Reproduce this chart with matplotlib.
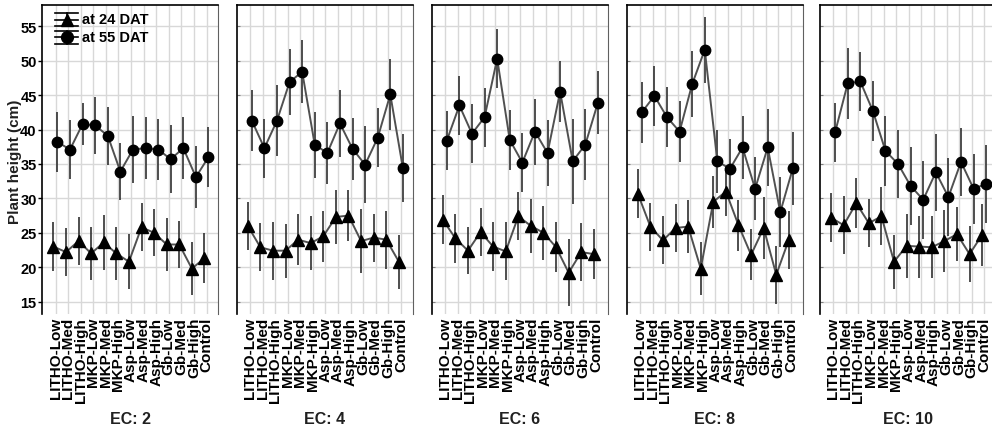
import numpy as np
import matplotlib
matplotlib.use('Agg')
import matplotlib.pyplot as plt

plt.rcParams['font.family'] = ['Liberation Sans', 'DejaVu Sans']
plt.rcParams['font.weight'] = 'bold'

treatments = ['LITHO-Low', 'LITHO-Med', 'LITHO-High', 'MKP-Low', 'MKP-Med', 'MKP-High',
              'Asp-Low', 'Asp-Med', 'Asp-High', 'Gb-Low', 'Gb-Med', 'Gb-High', 'Control']
ec_levels = ['EC: 2', 'EC: 4', 'EC: 6', 'EC: 8', 'EC: 10']
series_labels = ['at 24 DAT', 'at 55 DAT']

# plant height at 24 DAT (triangles), one list per EC level
h24_ec2 = [23.0, 22.2, 23.8, 22.0, 23.6, 22.0, 20.8, 25.8, 25.0, 23.3, 23.3, 19.8, 21.3]
h24_ec4 = [26.0, 22.9, 22.4, 22.4, 24.0, 23.5, 24.5, 27.3, 27.5, 23.8, 24.3, 24.0, 20.8]
h24_ec6 = [26.9, 24.2, 22.4, 25.1, 23.0, 22.3, 27.4, 26.0, 25.0, 22.9, 19.2, 22.2, 21.9]
h24_ec8 = [30.7, 25.9, 23.9, 25.7, 25.9, 19.8, 29.5, 31.0, 26.1, 21.8, 25.7, 18.9, 24.0]
h24_ec10 = [27.2, 26.1, 29.3, 26.4, 27.4, 20.8, 23.1, 23.0, 22.9, 23.8, 24.8, 21.9, 24.7]

err24_ec2 = [3.6, 3.5, 3.5, 3.9, 4.0, 3.9, 4.0, 3.5, 3.4, 3.9, 3.4, 3.8, 3.6]
err24_ec4 = [3.5, 3.5, 4.2, 3.9, 3.7, 3.9, 3.7, 3.9, 3.7, 4.6, 3.5, 4.2, 3.9]
err24_ec6 = [3.6, 3.6, 3.4, 3.5, 3.5, 4.2, 3.5, 3.9, 3.9, 3.6, 4.9, 4.2, 3.6]
err24_ec8 = [3.6, 3.5, 3.5, 3.5, 3.9, 3.9, 3.8, 3.6, 3.7, 3.7, 4.5, 4.2, 4.2]
err24_ec10 = [3.6, 4.2, 3.6, 3.5, 4.2, 3.9, 4.6, 4.5, 4.5, 4.5, 3.9, 4.1, 4.5]

# plant height at 55 DAT (circles)
h55_ec2 = [38.2, 37.1, 40.8, 40.6, 39.1, 33.9, 37.1, 37.3, 37.1, 35.7, 37.3, 33.1, 36.0]
h55_ec4 = [41.3, 37.3, 41.3, 46.9, 48.4, 37.8, 36.6, 40.9, 37.2, 34.9, 38.8, 45.1, 34.4]
h55_ec6 = [38.4, 43.5, 39.4, 41.8, 50.3, 38.5, 35.2, 39.7, 36.6, 45.5, 35.4, 37.8, 43.9]
h55_ec8 = [42.5, 44.9, 41.8, 39.7, 46.6, 51.6, 35.4, 34.3, 37.4, 31.4, 37.4, 28.0, 34.4]
h55_ec10 = [39.6, 46.7, 47.0, 42.7, 36.9, 35.0, 31.8, 29.8, 33.8, 30.2, 35.3, 31.4, 32.1]

err55_ec2 = [4.4, 4.3, 3.1, 4.1, 4.2, 4.2, 4.8, 4.5, 4.4, 4.9, 4.5, 4.5, 4.3]
err55_ec4 = [4.4, 4.3, 5.2, 4.8, 4.6, 4.8, 4.5, 4.9, 4.5, 5.6, 4.3, 5.1, 4.9]
err55_ec6 = [4.3, 4.3, 4.3, 4.3, 4.3, 4.4, 4.3, 4.8, 4.8, 4.4, 6.2, 5.2, 4.6]
err55_ec8 = [4.4, 4.4, 4.4, 4.4, 4.8, 4.8, 4.6, 4.4, 4.6, 4.6, 5.6, 5.1, 5.3]
err55_ec10 = [4.3, 5.1, 4.3, 4.4, 5.1, 4.9, 5.6, 5.7, 5.6, 5.7, 4.9, 5.1, 5.7]

h24 = [h24_ec2, h24_ec4, h24_ec6, h24_ec8, h24_ec10]
err24 = [err24_ec2, err24_ec4, err24_ec6, err24_ec8, err24_ec10]
h55 = [h55_ec2, h55_ec4, h55_ec6, h55_ec8, h55_ec10]
err55 = [err55_ec2, err55_ec4, err55_ec6, err55_ec8, err55_ec10]

W, H = 992, 435
fig = plt.figure(figsize=(W / 100, H / 100), dpi=100)

lefts = [42.3, 236.7, 431.7, 626.7, 820.0]
ax_w, ax_top, ax_bot = 176, 6, 315
ax_h = ax_bot - ax_top
x = np.arange(len(treatments))

for i, left in enumerate(lefts):
    ax = fig.add_axes([left / W, (H - ax_bot) / H, ax_w / W, ax_h / H])
    ax.set_xlim(-1.05, 12.93)
    ax.set_ylim(13.2, 58.1)
    ax.set_axisbelow(True)
    ax.grid(True, color='#d8d8d8', linewidth=1.0)

    ax.errorbar(x - 0.17, h24[i], yerr=err24[i], fmt='-', marker='^', color='#505050',
                mfc='black', mec='black', ms=8, lw=1.4, ecolor='#303030', elinewidth=1.2,
                capsize=0, zorder=3)
    ax.errorbar(x + 0.15, h55[i], yerr=err55[i], fmt='-', marker='o', color='#505050',
                mfc='black', mec='black', ms=7.5, lw=1.4, ecolor='#303030', elinewidth=1.2,
                capsize=0, zorder=3)

    ax.set_xticks(x)
    ax.set_xticklabels(treatments, rotation=90, fontsize=11, fontweight='bold')
    ax.tick_params(axis='x', length=0, pad=2)
    ax.set_yticks([15, 20, 25, 30, 35, 40, 45, 50, 55])
    for s in ['top', 'left']:
        ax.spines[s].set_color('black')
        ax.spines[s].set_linewidth(1.2)
    ax.spines['right'].set_color('#606060')
    ax.spines['bottom'].set_visible(False)

    if i == 0:
        ax.tick_params(axis='y', labelsize=10.5, length=3, width=1, pad=1)
        for lab in ax.get_yticklabels():
            lab.set_fontweight('bold')
        # hand-drawn legend: caps, line, vertical bar and marker in axes coords
        fx = lambda px: (px - left) / ax_w
        fy = lambda py: 1 - (py - ax_top) / ax_h
        for row_y, mk, lab in [(20.5, '^', series_labels[0]), (38.3, 'o', series_labels[1])]:
            for dy in (-6.3, 0, 6.3):
                ax.plot([fx(55), fx(78)], [fy(row_y + dy)] * 2, color='black', lw=1.2,
                        transform=ax.transAxes, clip_on=False, zorder=5)
            ax.plot([fx(66.5)] * 2, [fy(row_y - 6.3), fy(row_y + 6.3)], color='black', lw=1.2,
                    transform=ax.transAxes, zorder=5)
            ax.plot([fx(66.5)], [fy(row_y)], marker=mk, color='black', ms=9 if mk == '^' else 8.5,
                    transform=ax.transAxes, zorder=6)
            ax.text(fx(82), fy(row_y - 0.5), lab, transform=ax.transAxes, ha='left', va='center',
                    fontsize=10.5, fontweight='bold', zorder=6)
    else:
        ax.tick_params(axis='y', direction='in', length=2, labelleft=False, color='#808080')

    fig.text((left + ax_w / 2) / W, 15 / H, ec_levels[i], ha='center', va='center',
             fontsize=11.5, fontweight='bold', color='#202020')

fig.text(15 / W, (H - 162) / H, 'Plant height (cm)', rotation=90, ha='center', va='center',
         fontsize=11, fontweight='bold', color='#202020')

fig.savefig('out.png', dpi=100)
